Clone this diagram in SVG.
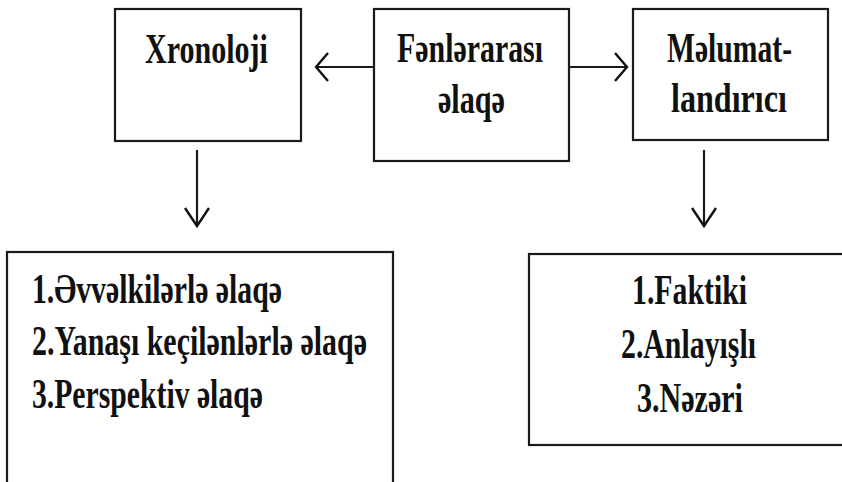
<svg xmlns="http://www.w3.org/2000/svg" width="842" height="482" viewBox="0 0 842 482">
  <defs>
    <style>
      .box { fill: #ffffff; stroke: #1a1a1a; stroke-width: 2.2; }
      .link { fill: none; stroke: #1a1a1a; stroke-width: 2.2; }
      .head { fill: none; stroke: #111111; stroke-width: 2.4; stroke-linejoin: miter; stroke-linecap: butt; }
      .lbl { font-family: "Liberation Serif", "Times New Roman", serif; font-weight: bold; font-size: 42px; fill: #111111; }
    </style>
  </defs>
  <rect x="0" y="0" width="842" height="482" fill="#ffffff"/>

  <g id="connectors">
    <!-- Fənlərarası → Xronoloji -->
    <line class="link" x1="374" y1="67" x2="317" y2="67"/>
    <polyline class="head" points="328,53 316,67 328,81"/>
    <!-- Fənlərarası → Məlumatlandırıcı -->
    <line class="link" x1="569" y1="67" x2="626" y2="67"/>
    <polyline class="head" points="615,53 627,67 615,81"/>
    <!-- Xronoloji → list -->
    <line class="link" x1="197" y1="150" x2="197" y2="225"/>
    <polyline class="head" points="185,208 197,226 209,208"/>
    <!-- Məlumatlandırıcı → list -->
    <line class="link" x1="704" y1="150" x2="704" y2="225"/>
    <polyline class="head" points="692,208 704,226 716,208"/>
  </g>

  <!-- labels use a condensed bold serif: each text is squeezed horizontally to 72% -->
  <g id="node-xronoloji">
    <rect class="box" x="115" y="9" width="186" height="132"/>
    <text class="lbl" transform="scale(0.72,1)" x="201.4" y="63" textLength="170.8" lengthAdjust="spacingAndGlyphs">Xronoloji</text>
  </g>

  <g id="node-fenlerarasi">
    <rect class="box" x="374" y="9" width="195" height="152"/>
    <text class="lbl" transform="scale(0.72,1)" x="551.4" y="62" textLength="202.8" lengthAdjust="spacingAndGlyphs">Fənlərarası</text>
    <text class="lbl" transform="scale(0.72,1)" x="608.3" y="113" textLength="93.1" lengthAdjust="spacingAndGlyphs">əlaqə</text>
  </g>

  <g id="node-melumatlandirici">
    <rect class="box" x="633" y="9" width="195" height="131"/>
    <text class="lbl" transform="scale(0.72,1)" x="926.4" y="62" textLength="173.6" lengthAdjust="spacingAndGlyphs">Məlumat-</text>
    <text class="lbl" transform="scale(0.72,1)" x="931.9" y="112" textLength="161.1" lengthAdjust="spacingAndGlyphs">landırıcı</text>
  </g>

  <g id="node-chronological-list">
    <rect class="box" x="7" y="252" width="386" height="250"/>
    <text class="lbl" transform="scale(0.72,1)" x="44.4" y="303" textLength="347.2" lengthAdjust="spacingAndGlyphs">1.Əvvəlkilərlə əlaqə</text>
    <text class="lbl" transform="scale(0.72,1)" x="44.4" y="355" textLength="465.3" lengthAdjust="spacingAndGlyphs">2.Yanaşı keçilənlərlə əlaqə</text>
    <text class="lbl" transform="scale(0.72,1)" x="44.4" y="408" textLength="320.8" lengthAdjust="spacingAndGlyphs">3.Perspektiv əlaqə</text>
  </g>

  <g id="node-informative-list">
    <rect class="box" x="529" y="254" width="340" height="191"/>
    <text class="lbl" transform="scale(0.72,1)" x="877.8" y="304" textLength="159.7" lengthAdjust="spacingAndGlyphs">1.Faktiki</text>
    <text class="lbl" transform="scale(0.72,1)" x="862.5" y="358" textLength="187.5" lengthAdjust="spacingAndGlyphs">2.Anlayışlı</text>
    <text class="lbl" transform="scale(0.72,1)" x="884.7" y="412" textLength="147.2" lengthAdjust="spacingAndGlyphs">3.Nəzəri</text>
  </g>
</svg>
